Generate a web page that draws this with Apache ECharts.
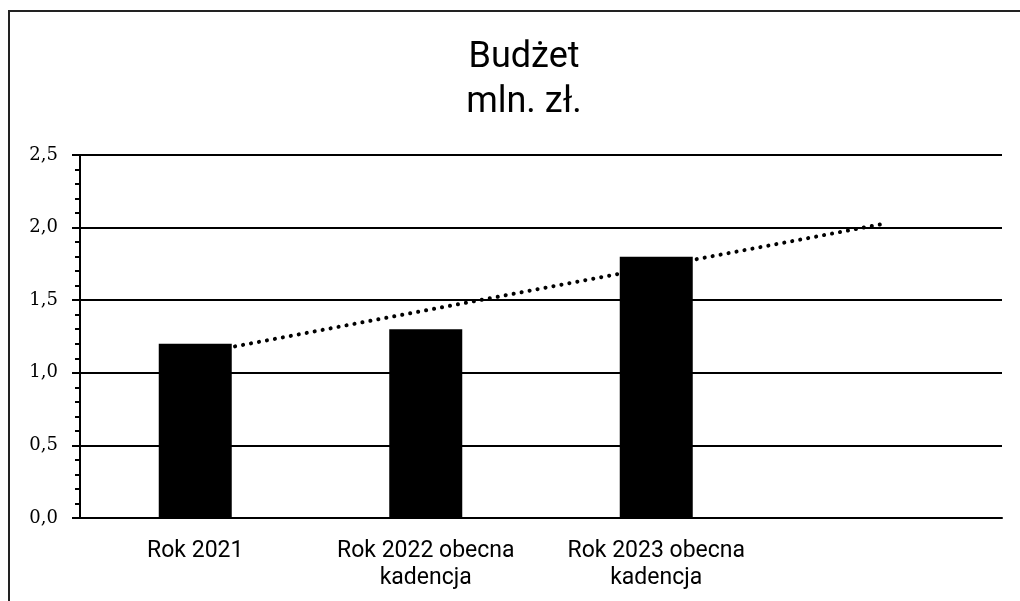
<!DOCTYPE html>
<html>
<head>
<meta charset="utf-8">
<script src="https://cdn.jsdelivr.net/npm/echarts@6/dist/echarts.min.js"></script>
<style>
  html, body { margin: 0; padding: 0; background: #fff; }
  #chart { width: 1020px; height: 601px; }
</style>
</head>
<body>
<div id="chart"></div>
<script>
// dane wykresu
const categories = ['Rok 2021', 'Rok 2022 obecna\nkadencja', 'Rok 2023 obecna\nkadencja', ''];
const budget = [1.2, 1.3, 1.8, null];
// linia trendu
const trend = [1.13, 1.43, 1.73, 2.03];

const chart = echarts.init(document.getElementById('chart'));

const option = {
  backgroundColor: '#fff',
  animation: false,
  title: {
    text: 'Budżet\nmln. zł.',
    left: 519,
    top: 30,
    textAlign: 'center',
    textStyle: {
      fontFamily: 'Roboto',
      fontWeight: 'normal',
      fontSize: 36,
      lineHeight: 45,
      color: '#000'
    }
  },
  graphic: [
    {
      type: 'rect',
      shape: { x: 9, y: 11, width: 1100, height: 700 },
      style: { fill: 'none', stroke: '#222', lineWidth: 2 },
      silent: true
    }
  ],
  grid: {
    left: 80,
    right: 18,
    top: 155,
    bottom: 83
  },
  xAxis: {
    type: 'category',
    data: categories,
    boundaryGap: true,
    axisLine: { show: true, lineStyle: { color: '#000', width: 2 } },
    axisTick: { show: false },
    axisLabel: {
      fontFamily: 'Roboto',
      fontSize: 23,
      color: '#000',
      lineHeight: 27,
      margin: 20,
      interval: 0
    }
  },
  yAxis: {
    type: 'value',
    min: 0,
    max: 2.5,
    interval: 0.5,
    axisLine: { show: true, lineStyle: { color: '#000', width: 2 } },
    axisTick: { show: true, length: 8, lineStyle: { color: '#000', width: 2 } },
    minorTick: { show: true, splitNumber: 5, length: 5, lineStyle: { color: '#000', width: 2 } },
    splitLine: { show: true, lineStyle: { color: '#000', width: 2 } },
    axisLabel: {
      fontFamily: 'DejaVu Serif',
      fontSize: 18,
      color: '#000',
      margin: 22,
      formatter: v => v.toFixed(1).replace('.', ',')
    }
  },
  series: [
    {
      name: 'Trend',
      type: 'line',
      data: trend,
      z: 1,
      symbol: 'none',
      lineStyle: { color: '#000', width: 4, type: [0.1, 8], cap: 'round' }
    },
    {
      name: 'Budżet',
      type: 'bar',
      data: budget,
      z: 3,
      barWidth: 73,
      itemStyle: { color: '#000' }
    }
  ]
};

chart.setOption(option);
</script>
</body>
</html>
